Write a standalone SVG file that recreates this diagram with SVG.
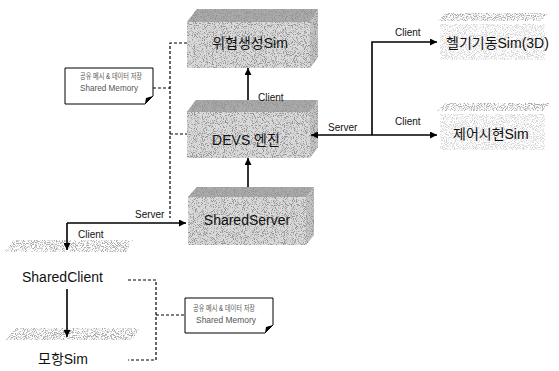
<svg xmlns="http://www.w3.org/2000/svg" width="559" height="371" viewBox="0 0 559 371">
<style>
.lbl{font-family:"Liberation Sans",Arial,sans-serif;font-size:10px;fill:#111}
.box{font-family:"Liberation Sans","Noto Sans CJK KR",sans-serif;font-size:14px;fill:#111}
.nt{font-family:"Liberation Sans","Noto Sans CJK KR",sans-serif;font-size:8.5px;fill:#555}
.ln{stroke:#000;stroke-width:1.6;fill:none}
.dl{stroke:#000;stroke-width:1.2;fill:none;stroke-dasharray:3 2}
.front{fill:#c8c8c8}
.top{fill:#6a6a6a}
.side{fill:#a2a2a2}
.band{fill:#d9d9d9}
.note{fill:#fff;stroke:#000;stroke-width:1}
</style>
<defs>
<filter id="spk" x="0" y="0" width="1" height="1">
<feTurbulence type="fractalNoise" baseFrequency="1.1" numOctaves="1" seed="4" result="n"/>
<feColorMatrix in="n" type="matrix" values="0 0 0 0 0  0 0 0 0 0  0 0 0 0 0  -7 0 0 0 3.5" result="d"/>
<feComposite in="d" in2="SourceGraphic" operator="in" result="dd"/>
<feTurbulence type="fractalNoise" baseFrequency="1.0" numOctaves="1" seed="9" result="n2"/>
<feColorMatrix in="n2" type="matrix" values="0 0 0 0 1  0 0 0 0 1  0 0 0 0 1  -7 0 0 0 3.8" result="w"/>
<feComposite in="w" in2="SourceGraphic" operator="in" result="ww"/>
<feMerge><feMergeNode in="SourceGraphic"/><feMergeNode in="dd"/><feMergeNode in="ww"/></feMerge>
</filter>
<filter id="spl" x="0" y="0" width="1" height="1">
<feTurbulence type="fractalNoise" baseFrequency="1.1" numOctaves="1" seed="7" result="n"/>
<feColorMatrix in="n" type="matrix" values="0 0 0 0 0.4  0 0 0 0 0.4  0 0 0 0 0.4  -6 0 0 0 3.2" result="d"/>
<feComposite in="d" in2="SourceGraphic" operator="in"/>
</filter>
<marker id="ah" viewBox="0 0 10 10" refX="10" refY="5" markerWidth="7" markerHeight="7" markerUnits="userSpaceOnUse" orient="auto">
<path d="M0,0 L10,5 L0,10 Z" fill="#000"/>
</marker>
</defs>

<g id="threat">
<g filter="url(#spk)">
<polygon class="front" points="187,22 310,22 310,68 187,68"/>
<polygon class="top" points="187,22 197,9 318,9 310,22"/>
<polygon class="side" points="310,22 318,9 318,57 310,68"/>
</g>
<text class="box" x="250" y="48" text-anchor="middle">위협생성Sim</text>
</g>

<g id="devs">
<g filter="url(#spk)">
<polygon class="front" points="187,112 310,112 310,158 187,158"/>
<polygon class="top" points="187,112 196,100 318,100 310,112"/>
<polygon class="side" points="310,112 318,100 318,147 310,158"/>
</g>
<text class="box" x="246" y="145" text-anchor="middle">DEVS 엔진</text>
</g>

<g id="sharedserver">
<g filter="url(#spk)">
<polygon class="front" points="188,197 306,197 306,245 188,245"/>
<polygon class="top" points="188,197 197,187 314,187 306,197"/>
<polygon class="side" points="306,197 314,187 314,235 306,245"/>
</g>
<text class="box" x="247" y="225" text-anchor="middle">SharedServer</text>
</g>

<g id="heli">
<polygon class="band" filter="url(#spl)" points="437,21 446,13 548,13 541,21"/>
<rect x="440" y="24" width="105" height="36" fill="#e4e4e4" filter="url(#spl)" opacity="0.5"/>
<text class="box" x="446" y="48" font-size="13.5">헬기기동Sim(3D)</text>
</g>

<g id="control">
<polygon class="band" filter="url(#spl)" points="437,111 446,103 550,103 543,111"/>
<rect x="440" y="114" width="105" height="36" fill="#e4e4e4" filter="url(#spl)" opacity="0.5"/>
<text class="box" x="453" y="139" font-size="13.5">제어시현Sim</text>
</g>

<g id="sharedclient">
<polygon class="band" filter="url(#spl)" points="4,252 14,240 133,240 126,252"/>
<text class="box" x="22" y="282">SharedClient</text>
</g>

<g id="mohang">
<polygon class="band" filter="url(#spl)" points="5,340 16,328 140,328 132,340"/>
<text class="box" x="38" y="364">모항Sim</text>
</g>

<g id="note1">
<path class="note" d="M65,68 H153 V96 L145,104 H65 Z"/>
<path d="M145,104 L146,98 L153,96 Z" fill="#000"/>
<text class="nt" x="80" y="79" textLength="62" lengthAdjust="spacingAndGlyphs">공유 메시 &amp; 데이터 저장</text>
<text class="nt" x="80" y="91" textLength="58" lengthAdjust="spacingAndGlyphs">Shared Memory</text>
</g>

<g id="note2">
<path class="note" d="M185,298 H273 V325 L265,333 H185 Z"/>
<path d="M265,333 L266,327 L273,325 Z" fill="#000"/>
<text class="nt" x="193" y="311" textLength="62" lengthAdjust="spacingAndGlyphs">공유 메시 &amp; 데이터 저장</text>
<text class="nt" x="196" y="323" textLength="60" lengthAdjust="spacingAndGlyphs">Shared Memory</text>
</g>

<g id="connectors">
<line class="ln" x1="248" y1="187" x2="248" y2="158" marker-end="url(#ah)"/>
<line class="ln" x1="248" y1="100" x2="248" y2="68" marker-end="url(#ah)"/>
<polyline class="ln" points="372,135 372,42 437,42" marker-end="url(#ah)"/>
<line class="ln" x1="372" y1="135" x2="437" y2="135" marker-end="url(#ah)"/>
<line class="ln" x1="372" y1="135" x2="311" y2="135" marker-end="url(#ah)"/>
<line class="ln" x1="67" y1="223" x2="186" y2="223" marker-end="url(#ah)"/>
<line class="ln" x1="67" y1="223" x2="67" y2="250" marker-end="url(#ah)"/>
<line class="ln" x1="67" y1="289" x2="67" y2="337" marker-end="url(#ah)"/>
<polyline class="dl" points="187,43 170,43 170,218"/>
<line class="dl" x1="153" y1="88" x2="170" y2="88"/>
<line class="dl" x1="170" y1="134" x2="187" y2="134"/>
<polyline class="dl" points="128,280 156,280 156,360 128,360"/>
<line class="dl" x1="156" y1="315" x2="185" y2="315"/>
<text class="lbl" x="258" y="101">Client</text>
<text class="lbl" x="395" y="36">Client</text>
<text class="lbl" x="395" y="125">Client</text>
<text class="lbl" x="328" y="131">Server</text>
<text class="lbl" x="135" y="218">Server</text>
<text class="lbl" x="78" y="238">Client</text>
</g>
</svg>
